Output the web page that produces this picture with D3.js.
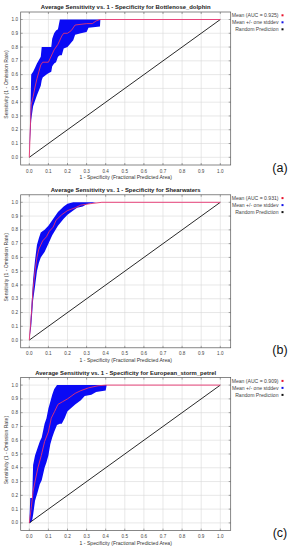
<!DOCTYPE html>
<html>
<head>
<meta charset="utf-8">
<script src="https://cdn.jsdelivr.net/npm/d3@7"></script>
<style>
  body { margin: 0; background: #fff; }
  svg { display: block; font-family: "Liberation Sans", Arial, sans-serif; }
  .grid line { stroke: #d8d8d8; stroke-width: 0.6; }
  .tick-lbl { font-size: 4.6px; fill: #444; }
  .axis-title { font-size: 5.1px; fill: #333; }
  .title { font-size: 5.9px; font-weight: bold; fill: #222; }
  .legend text { font-size: 5.1px; fill: #444; }
</style>
</head>
<body>
<div id="chart"></div>
<script>
// Panel names / AUC values
const species = ['Bottlenose_dolphin', 'Shearwaters', 'European_storm_petrel'];
const aucs = ['0.925', '0.931', '0.909'];
const panelTags = ['(a)', '(b)', '(c)'];
const ticks = [0, 0.1, 0.2, 0.3, 0.4, 0.5, 0.6, 0.7, 0.8, 0.9, 1.0];

// (a) Bottlenose dolphin
const meanA = [[0,0],[0.005,0.2],[0.01,0.38],[0.02,0.44],[0.03,0.51],[0.04,0.57],[0.05,0.62],
  [0.06,0.67],[0.07,0.69],[0.1,0.69],[0.11,0.72],[0.12,0.75],[0.13,0.78],[0.14,0.8],[0.15,0.82],
  [0.16,0.85],[0.17,0.88],[0.18,0.9],[0.2,0.9],[0.22,0.92],[0.24,0.96],[0.3,0.97],[0.33,0.97],
  [0.35,0.99],[0.37,1.0],[1,1]];
const bandXA = [0,0.005,0.01,0.02,0.03,0.04,0.06,0.065,0.07,0.09,0.1,0.115,0.12,0.13,0.14,0.15,
  0.16,0.17,0.18,0.2,0.23,0.24,0.27,0.3,0.31,0.37,0.372];
const bandHiA = [0,0.3,0.6,0.62,0.65,0.68,0.73,0.8,0.8,0.8,0.8,0.8,0.86,0.9,0.92,0.93,1,1,1,1,1,1,1,1,1,1,1];
const bandLoA = [0,0.15,0.27,0.37,0.41,0.45,0.52,0.56,0.58,0.6,0.61,0.62,0.66,0.68,0.69,0.73,
  0.74,0.74,0.79,0.8,0.85,0.89,0.9,0.91,0.94,0.95,1];

// (b) Shearwaters
const meanB = [[0,0],[0.01,0.17],[0.02,0.37],[0.03,0.5],[0.04,0.6],[0.05,0.66],[0.06,0.69],
  [0.07,0.72],[0.09,0.75],[0.105,0.79],[0.125,0.82],[0.14,0.87],[0.17,0.91],[0.2,0.94],
  [0.24,0.96],[0.27,0.98],[0.32,0.99],[0.38,1.0],[1,1]];
const bandXB = [0,0.01,0.02,0.03,0.04,0.05,0.06,0.08,0.1,0.12,0.15,0.18,0.2,0.23,0.25,0.28,0.3,0.35];
const bandHiB = [0,0.22,0.44,0.58,0.69,0.74,0.78,0.8,0.83,0.87,0.93,0.97,0.99,1,1,1,1,1];
const bandLoB = [0,0.1,0.29,0.39,0.5,0.56,0.6,0.64,0.7,0.76,0.83,0.88,0.91,0.94,0.96,0.97,0.985,1];

// (c) European storm petrel
const meanC = [[0,0],[0.01,0.11],[0.02,0.23],[0.03,0.3],[0.045,0.4],[0.063,0.49],[0.08,0.59],
  [0.1,0.66],[0.115,0.76],[0.133,0.81],[0.15,0.86],[0.175,0.88],[0.2,0.9],[0.24,0.94],
  [0.27,0.96],[0.31,0.98],[0.36,0.995],[0.4,1.0],[1,1]];
const bandXC = [0,0.005,0.015,0.02,0.03,0.045,0.055,0.065,0.08,0.09,0.1,0.11,0.12,0.13,0.145,
  0.16,0.17,0.185,0.2,0.24,0.27,0.29,0.325,0.35,0.4,0.405];
const bandHiC = [0,0.18,0.18,0.42,0.49,0.55,0.59,0.62,0.72,0.76,0.83,0.88,0.93,0.97,1,1,1,1,1,1,1,1,1,1,1,1];
const bandLoC = [0,0,0.02,0.06,0.16,0.23,0.28,0.31,0.4,0.44,0.49,0.57,0.62,0.66,0.71,0.72,
  0.72,0.76,0.81,0.86,0.89,0.92,0.93,0.95,0.96,1];

const means = [meanA, meanB, meanC];
const bands = [[bandXA, bandHiA, bandLoA], [bandXB, bandHiB, bandLoB], [bandXC, bandHiC, bandLoC]];

const W = 293, H = 550;
const panelH = 182.8;
const frame = {left: 20.7, right: 230.7, top: 12, bottom: 165};

const svg = d3.select('#chart').append('svg')
  .attr('width', W)
  .attr('height', H);

function drawPanel(i) {
  const g = svg.append('g').attr('transform', `translate(0,${i * panelH})`);
  const x = d3.scaleLinear().domain([0, 1]).range([29.3, 220.3]);
  const y = d3.scaleLinear().domain([0, 1]).range([157.3, 19.5]);

  // Grid
  const grid = g.append('g').attr('class', 'grid');
  grid.selectAll('.gx').data(ticks).enter().append('line')
    .attr('x1', d => x(d)).attr('x2', d => x(d))
    .attr('y1', frame.top).attr('y2', frame.bottom);
  grid.selectAll('.gy').data(ticks).enter().append('line')
    .attr('y1', d => y(d)).attr('y2', d => y(d))
    .attr('x1', frame.left).attr('x2', frame.right);

  // Std-dev band
  const [bx, hi, lo] = bands[i];
  const area = d3.area()
    .x(d => x(d))
    .y0((d, j) => y(lo[j]))
    .y1((d, j) => y(hi[j]));
  g.append('path')
    .attr('d', area(bx))
    .attr('fill', '#0a0af5');

  // Random prediction
  g.append('line')
    .attr('x1', x(0)).attr('y1', y(0))
    .attr('x2', x(1)).attr('y2', y(1))
    .attr('stroke', '#111').attr('stroke-width', 0.9);

  // Mean curve
  g.append('path')
    .attr('d', d3.line().x(d => x(d[0])).y(d => y(d[1]))(means[i]))
    .attr('fill', 'none')
    .attr('stroke', '#e8336f')
    .attr('stroke-width', 0.9);

  // Frame + ticks
  g.append('rect')
    .attr('x', frame.left).attr('y', frame.top)
    .attr('width', frame.right - frame.left)
    .attr('height', frame.bottom - frame.top)
    .attr('fill', 'none').attr('stroke', '#555').attr('stroke-width', 0.7);
  const tk = g.append('g').attr('stroke', '#555').attr('stroke-width', 0.5);
  ticks.forEach(t => {
    tk.append('line').attr('x1', x(t)).attr('x2', x(t)).attr('y1', frame.bottom).attr('y2', frame.bottom - 2);
    tk.append('line').attr('x1', x(t)).attr('x2', x(t)).attr('y1', frame.top).attr('y2', frame.top + 2);
    tk.append('line').attr('y1', y(t)).attr('y2', y(t)).attr('x1', frame.left).attr('x2', frame.left + 2);
    tk.append('line').attr('y1', y(t)).attr('y2', y(t)).attr('x1', frame.right).attr('x2', frame.right - 2);
  });

  // Tick labels
  g.selectAll('.xl').data(ticks).enter().append('text')
    .attr('class', 'tick-lbl')
    .attr('x', d => x(d)).attr('y', 172.6)
    .attr('text-anchor', 'middle')
    .text(d => d3.format('.1f')(d));
  g.selectAll('.yl').data(ticks).enter().append('text')
    .attr('class', 'tick-lbl')
    .attr('x', 18).attr('y', d => y(d) + 1.6)
    .attr('text-anchor', 'end')
    .text(d => d3.format('.1f')(d));

  // Titles
  g.append('text').attr('class', 'title')
    .attr('x', (frame.left + frame.right) / 2).attr('y', 9)
    .attr('text-anchor', 'middle')
    .text(`Average Sensitivity vs. 1 - Specificity for ${species[i]}`);
  g.append('text').attr('class', 'axis-title')
    .attr('x', (frame.left + frame.right) / 2).attr('y', 179.3)
    .attr('text-anchor', 'middle')
    .text('1 - Specificity (Fractional Predicted Area)');
  g.append('text').attr('class', 'axis-title')
    .attr('transform', `translate(7.5,${(frame.top + frame.bottom) / 2 - 4}) rotate(-90)`)
    .attr('text-anchor', 'middle')
    .text('Sensitivity (1 - Omission Rate)');

  // Legend
  const items = [[`Mean (AUC = ${aucs[i]})`, '#e8102a'], ['Mean +/- one stddev', '#1010e8'], ['Random Prediction', '#111']];
  const lg = g.append('g').attr('class', 'legend')
    .selectAll('g').data(items).enter().append('g')
    .attr('transform', (_, j) => `translate(0,${15.3 + j * 7})`);
  lg.append('text')
    .attr('x', 278.5).attr('y', 1.8)
    .attr('text-anchor', 'end')
    .text(d => d[0]);
  lg.append('rect')
    .attr('x', 281.5).attr('y', -1).attr('width', 2).attr('height', 2)
    .attr('fill', d => d[1]);

  // Panel tag
  g.append('text')
    .attr('x', 280).attr('y', 171.5)
    .attr('text-anchor', 'middle')
    .style('font-size', '12.5px')
    .style('fill', '#111')
    .text(panelTags[i]);
}

[0, 1, 2].forEach(drawPanel);
</script>
</body>
</html>
